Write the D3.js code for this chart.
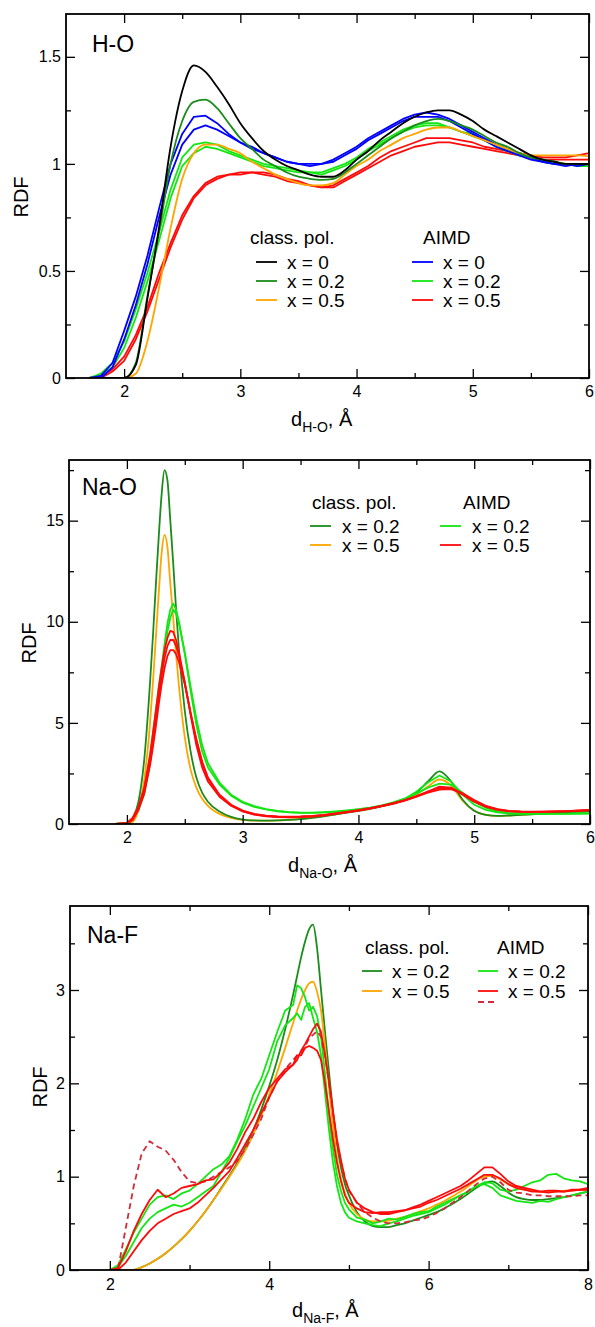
<!DOCTYPE html>
<html>
<head>
<meta charset="utf-8">
<title>RDF</title>
<script src="https://d3js.org/d3.v7.min.js"></script>
<style>
  body { margin: 0; background: #fff; }
  text { font-family: "Liberation Sans", Arial, sans-serif; fill: #000; }
</style>
</head>
<body>
<script>
// ---------- H-O panel data ----------
var hoX = [1.7,1.8,1.9,2.0,2.1,2.2,2.3,2.4,2.5,2.6,2.7,2.8,2.9,3.0,3.1,3.2,3.3,3.4,3.5,3.6,3.7,3.8,3.9,4.0,4.1,4.2,4.3,4.4,4.5,4.6,4.7,4.8,4.9,5.0,5.1,5.2,5.3,5.4,5.5,5.6,5.7,5.8,5.9,6.0];
var hoClass0  = [0,0,0,0,0.06,0.37,0.70,1.08,1.34,1.46,1.43,1.36,1.28,1.19,1.12,1.06,1.02,0.99,0.97,0.95,0.94,0.94,0.97,1.02,1.06,1.11,1.15,1.19,1.22,1.24,1.25,1.25,1.23,1.20,1.16,1.13,1.10,1.07,1.04,1.02,1.01,1.00,1.00,1.00];
var hoClass02 = [0,0,0,0,0.07,0.38,0.68,1.00,1.20,1.29,1.30,1.26,1.19,1.12,1.07,1.02,0.99,0.96,0.94,0.93,0.925,0.93,0.96,1.00,1.04,1.08,1.12,1.15,1.18,1.20,1.21,1.20,1.18,1.16,1.13,1.10,1.08,1.05,1.03,1.02,1.01,1.00,1.00,1.00];
var hoClass05 = [0,0,0,0,0.02,0.17,0.42,0.70,0.93,1.05,1.09,1.09,1.07,1.05,1.01,0.98,0.95,0.93,0.91,0.90,0.90,0.91,0.95,0.99,1.02,1.06,1.09,1.12,1.14,1.16,1.17,1.17,1.15,1.13,1.11,1.09,1.07,1.05,1.04,1.04,1.04,1.04,1.04,1.035];
var hoAimd0a  = [0,0.01,0.07,0.22,0.38,0.57,0.79,1.00,1.14,1.22,1.225,1.19,1.14,1.10,1.08,1.05,1.03,1.01,1.00,1.00,1.00,1.02,1.05,1.08,1.12,1.15,1.18,1.21,1.23,1.24,1.23,1.21,1.18,1.15,1.12,1.09,1.07,1.05,1.03,1.01,1.00,1.00,0.99,1.00];
var hoAimd0b  = [0,0,0.05,0.18,0.34,0.53,0.75,0.95,1.09,1.16,1.18,1.16,1.13,1.10,1.07,1.05,1.03,1.01,1.00,0.99,1.00,1.01,1.04,1.07,1.11,1.14,1.17,1.20,1.22,1.22,1.22,1.20,1.17,1.14,1.11,1.08,1.06,1.04,1.02,1.01,1.00,0.99,1.00,1.00];
var hoAimd02a = [0,0.02,0.07,0.17,0.32,0.49,0.68,0.88,1.03,1.09,1.10,1.09,1.06,1.04,1.02,1.00,0.99,0.98,0.97,0.96,0.96,0.98,1.00,1.03,1.07,1.10,1.13,1.16,1.18,1.19,1.19,1.17,1.15,1.14,1.11,1.09,1.07,1.05,1.03,1.02,1.01,1.00,1.00,1.00];
var hoAimd02b = [0,0.01,0.05,0.14,0.28,0.45,0.64,0.84,0.99,1.05,1.08,1.07,1.05,1.03,1.01,0.99,0.98,0.97,0.96,0.96,0.95,0.97,0.99,1.02,1.06,1.09,1.12,1.15,1.17,1.18,1.18,1.17,1.15,1.13,1.11,1.08,1.06,1.04,1.03,1.01,1.00,1.00,0.99,0.99];
var hoAimd05a = [0,0.01,0.04,0.10,0.20,0.33,0.49,0.63,0.76,0.85,0.91,0.94,0.95,0.96,0.96,0.96,0.95,0.93,0.92,0.90,0.89,0.90,0.93,0.96,0.99,1.03,1.06,1.08,1.10,1.12,1.12,1.12,1.11,1.10,1.08,1.07,1.06,1.05,1.04,1.03,1.03,1.03,1.04,1.05];
var hoAimd05b = [0,0,0.03,0.08,0.18,0.31,0.46,0.61,0.74,0.84,0.90,0.93,0.95,0.95,0.96,0.95,0.94,0.92,0.91,0.90,0.89,0.89,0.92,0.95,0.98,1.01,1.04,1.06,1.08,1.09,1.10,1.10,1.09,1.08,1.07,1.06,1.05,1.04,1.03,1.02,1.02,1.02,1.02,1.02];

// ---------- Na-O panel data ----------
var naoX = [1.9,2.0,2.05,2.1,2.15,2.2,2.225,2.25,2.275,2.3,2.325,2.35,2.375,2.4,2.425,2.45,2.5,2.55,2.6,2.65,2.7,2.8,2.9,3.0,3.1,3.2,3.3,3.4,3.5,3.6,3.7,3.8,3.9,4.0,4.1,4.2,4.3,4.4,4.5,4.6,4.7,4.8,4.9,5.0,5.1,5.2,5.3,5.4,5.5,5.6,5.7,5.8,5.9,6.0];
var naoClass02 = [0,0,0.3,1.1,3.2,7.0,9.3,11.8,14.2,16.3,17.5,17.0,15.0,12.9,10.6,8.6,5.6,3.6,2.3,1.55,1.1,0.62,0.35,0.22,0.18,0.17,0.18,0.20,0.24,0.30,0.38,0.47,0.56,0.65,0.75,0.87,1.02,1.22,1.55,2.10,2.60,2.10,1.20,0.65,0.45,0.40,0.42,0.45,0.48,0.52,0.55,0.58,0.60,0.62];
var naoClass05 = [0,0,0.1,0.7,2.2,5.0,7.0,9.2,11.4,13.4,14.3,13.7,11.9,10.2,8.4,6.8,4.3,2.7,1.8,1.25,0.9,0.5,0.3,0.2,0.17,0.17,0.18,0.21,0.25,0.31,0.39,0.48,0.57,0.66,0.76,0.88,1.02,1.20,1.45,1.85,2.20,1.90,1.15,0.65,0.45,0.40,0.42,0.45,0.49,0.52,0.55,0.58,0.60,0.62];
var naoAimd02a = [0,0.05,0.3,0.8,1.7,3.4,4.5,5.6,6.8,7.8,8.9,9.9,10.6,10.9,10.6,10.0,8.4,6.6,4.9,3.6,2.8,1.95,1.4,1.05,0.85,0.72,0.63,0.58,0.55,0.55,0.57,0.60,0.65,0.72,0.80,0.90,1.05,1.25,1.60,2.05,2.40,2.10,1.45,0.95,0.70,0.58,0.52,0.50,0.50,0.50,0.50,0.51,0.52,0.53];
var naoAimd02b = [0,0.04,0.25,0.7,1.5,3.0,4.1,5.2,6.4,7.5,8.6,9.5,10.2,10.6,10.4,9.9,8.5,6.8,5.2,3.9,3.0,2.05,1.45,1.1,0.88,0.74,0.65,0.59,0.56,0.56,0.58,0.62,0.67,0.73,0.81,0.92,1.07,1.25,1.50,1.80,2.00,1.95,1.55,1.10,0.80,0.62,0.55,0.52,0.51,0.50,0.50,0.50,0.51,0.52];
var naoAimd05a = [0,0.05,0.3,0.85,1.8,3.4,4.5,5.6,6.7,7.7,8.6,9.2,9.55,9.5,9.1,8.5,7.0,5.4,3.9,2.8,2.1,1.35,0.9,0.62,0.46,0.38,0.34,0.33,0.34,0.37,0.42,0.50,0.58,0.66,0.76,0.88,1.00,1.15,1.35,1.60,1.85,1.80,1.45,1.10,0.85,0.70,0.62,0.60,0.60,0.61,0.62,0.64,0.67,0.70];
var naoAimd05b = [0,0.04,0.25,0.75,1.6,3.1,4.1,5.2,6.3,7.3,8.2,8.8,9.1,9.1,8.8,8.3,7.0,5.5,4.1,3.0,2.25,1.4,0.92,0.64,0.48,0.40,0.36,0.35,0.36,0.39,0.44,0.51,0.59,0.67,0.77,0.89,1.02,1.17,1.35,1.55,1.70,1.72,1.50,1.15,0.88,0.72,0.64,0.61,0.60,0.60,0.61,0.63,0.65,0.68];
var naoAimd05c = [0,0.03,0.2,0.7,1.5,2.9,3.8,4.8,5.9,6.9,7.7,8.3,8.6,8.6,8.4,8.0,6.9,5.5,4.2,3.1,2.3,1.45,0.95,0.66,0.50,0.41,0.37,0.36,0.37,0.40,0.45,0.52,0.60,0.68,0.78,0.90,1.03,1.18,1.38,1.60,1.78,1.78,1.52,1.18,0.90,0.74,0.65,0.62,0.61,0.61,0.62,0.63,0.66,0.69];

// ---------- Na-F panel data ----------
var nafX = [2.0,2.1,2.2,2.3,2.4,2.5,2.6,2.7,2.8,2.9,3.0,3.1,3.2,3.3,3.4,3.5,3.6,3.7,3.8,3.9,4.0,4.1,4.2,4.3,4.35,4.4,4.45,4.5,4.55,4.6,4.65,4.7,4.75,4.8,4.85,4.9,4.95,5.0,5.1,5.2,5.3,5.4,5.5,5.6,5.7,5.8,5.9,6.0,6.1,6.2,6.3,6.4,6.5,6.6,6.7,6.8,6.9,7.0,7.1,7.2,7.3,7.4,7.5,7.6,7.7,7.8,7.9,8.0];
var nafClass02 = [0,0,0,0,0.03,0.07,0.12,0.18,0.25,0.33,0.42,0.52,0.63,0.75,0.88,1.01,1.15,1.31,1.50,1.72,1.97,2.25,2.58,2.95,3.15,3.35,3.52,3.65,3.70,3.45,3.00,2.55,2.12,1.70,1.35,1.10,0.92,0.80,0.62,0.52,0.47,0.46,0.46,0.48,0.50,0.53,0.56,0.59,0.62,0.66,0.71,0.76,0.82,0.88,0.93,0.95,0.90,0.83,0.78,0.76,0.75,0.75,0.76,0.77,0.78,0.80,0.82,0.84];
var nafClass05 = [0,0,0,0,0.03,0.07,0.12,0.18,0.25,0.33,0.42,0.52,0.63,0.75,0.87,1.00,1.13,1.28,1.45,1.65,1.88,2.12,2.38,2.65,2.78,2.90,3.00,3.07,3.09,2.98,2.78,2.40,1.95,1.55,1.20,0.98,0.82,0.72,0.60,0.54,0.52,0.52,0.53,0.55,0.57,0.60,0.63,0.66,0.70,0.74,0.79,0.84,0.90,0.96,1.00,1.01,0.97,0.92,0.88,0.86,0.85,0.84,0.84,0.84,0.85,0.85,0.86,0.86];
var nafAimd02a = [0,0.05,0.22,0.40,0.55,0.70,0.78,0.80,0.76,0.82,0.85,0.92,1.00,1.08,1.13,1.22,1.40,1.62,1.88,2.05,2.30,2.55,2.78,2.84,3.05,3.02,2.92,2.78,2.82,2.72,2.50,2.10,1.65,1.30,1.02,0.85,0.72,0.65,0.56,0.54,0.50,0.52,0.55,0.54,0.57,0.60,0.62,0.63,0.68,0.72,0.76,0.80,0.84,0.90,0.94,0.93,0.86,0.84,0.86,0.90,0.94,0.96,1.02,1.03,0.98,0.96,0.95,0.92];
var nafAimd02b = [0,0.03,0.15,0.30,0.45,0.55,0.62,0.66,0.70,0.68,0.72,0.78,0.84,0.90,1.05,1.20,1.38,1.55,1.75,1.95,2.15,2.45,2.62,2.70,2.75,2.68,2.82,2.86,2.70,2.55,2.30,1.90,1.50,1.15,0.90,0.72,0.62,0.56,0.52,0.50,0.48,0.47,0.50,0.52,0.55,0.58,0.60,0.62,0.66,0.70,0.75,0.80,0.84,0.90,0.92,0.88,0.80,0.77,0.74,0.73,0.72,0.74,0.73,0.76,0.78,0.80,0.82,0.84];
var nafAimd05a = [0,0.02,0.20,0.42,0.60,0.75,0.86,0.78,0.82,0.88,0.90,0.92,0.96,0.97,1.05,1.15,1.30,1.48,1.62,1.80,1.95,2.05,2.15,2.20,2.30,2.30,2.38,2.40,2.38,2.35,2.25,2.00,1.70,1.40,1.15,0.95,0.80,0.72,0.66,0.62,0.61,0.62,0.62,0.63,0.64,0.67,0.70,0.74,0.78,0.82,0.86,0.90,0.96,1.03,1.10,1.10,1.03,0.95,0.90,0.88,0.86,0.84,0.85,0.85,0.84,0.86,0.86,0.88];
var nafAimd05b = [0,0,0.08,0.20,0.32,0.42,0.50,0.55,0.60,0.63,0.66,0.72,0.80,0.88,0.97,1.06,1.20,1.35,1.50,1.68,1.85,2.02,2.12,2.20,2.25,2.35,2.42,2.50,2.58,2.64,2.55,2.30,2.02,1.70,1.40,1.18,0.98,0.86,0.72,0.66,0.62,0.60,0.60,0.62,0.64,0.66,0.68,0.72,0.75,0.79,0.83,0.87,0.92,0.97,1.02,1.02,0.98,0.92,0.88,0.86,0.84,0.84,0.83,0.84,0.84,0.85,0.86,0.86];
var nafAimd05dash = [0,0,0.45,0.90,1.25,1.38,1.32,1.28,1.18,1.05,0.95,0.93,0.95,1.00,1.05,1.10,1.17,1.30,1.45,1.62,1.85,2.02,2.15,2.25,2.30,2.33,2.40,2.48,2.52,2.56,2.50,2.30,2.00,1.68,1.38,1.15,0.98,0.85,0.72,0.62,0.56,0.52,0.50,0.50,0.51,0.53,0.54,0.57,0.61,0.66,0.72,0.78,0.85,0.92,0.98,1.00,0.94,0.86,0.83,0.82,0.80,0.80,0.79,0.79,0.79,0.79,0.80,0.80];

// tick values
var hoXTicks = [2,3,4,5,6], hoXMinor = [2.5,3.5,4.5,5.5];
var hoYTicks = [0,0.5,1,1.5], hoYMinor = [0.25,0.75,1.25];
var naoXTicks = [2,3,4,5,6], naoXMinor = [2.5,3.5,4.5,5.5];
var naoYTicks = [0,5,10,15], naoYMinor = [2.5,7.5,12.5,17.5];
var nafXTicks = [2,4,6,8], nafXMinor = [3,5,7];
var nafYTicks = [0,1,2,3], nafYMinor = [0.5,1.5,2.5,3.5];

var cBlack = "#000000", cDkGreen = "#1a8c1a", cOrange = "#ffa500",
    cBlue = "#0000ff", cGreen = "#14e614", cRed = "#ff0a0a", cDash = "#d42a3a";

var W = 595, H = 1327;
var svg = d3.select("body").append("svg").attr("width", W).attr("height", H);

function drawPanel(p, idx) {
  var x = d3.scaleLinear().domain(p.xDom).range([p.left, p.right]);
  var y = d3.scaleLinear().domain(p.yDom).range([p.bottom, p.top]);
  var g = svg.append("g");

  var clipId = "clip" + idx;
  svg.append("clipPath").attr("id", clipId).append("rect")
    .attr("x", p.left).attr("y", p.top)
    .attr("width", p.right - p.left).attr("height", p.bottom - p.top);

  var curves = g.append("g").attr("clip-path", "url(#" + clipId + ")");
  p.series.forEach(function(s) {
    var line = d3.line()
      .x(function(d, i) { return x(p.xs[i]); })
      .y(function(d) { return y(d); })
      .curve(s.noisy ? d3.curveLinear : d3.curveMonotoneX);
    curves.append("path").datum(s.y)
      .attr("d", line)
      .attr("fill", "none")
      .attr("stroke", s.color)
      .attr("stroke-width", 1.8)
      .attr("stroke-linejoin", "round")
      .attr("stroke-dasharray", s.dash ? "6,4" : null);
  });

  // axes, ticks pointing inward on all sides
  function ax(gen, scale, vals, size, labels, tr, pad) {
    var a = gen(scale).tickValues(vals).tickSize(-size).tickPadding(pad || 0);
    if (!labels) a.tickFormat("");
    else a.tickFormat(d3.format("~g"));
    var sel = g.append("g").attr("transform", tr).call(a);
    sel.select(".domain").remove();
    sel.selectAll("line").attr("stroke", "#000").attr("stroke-width", 1.3);
    sel.selectAll("text").style("font-size", "16px")
      .style("font-family", "'Liberation Sans', Arial, sans-serif").attr("fill", "#000");
    return sel;
  }
  ax(d3.axisBottom, x, p.xTicks, 9, true, "translate(0," + p.bottom + ")", p.xPad);
  ax(d3.axisBottom, x, p.xMinor, 5, false, "translate(0," + p.bottom + ")");
  ax(d3.axisTop, x, p.xTicks, 9, false, "translate(0," + p.top + ")");
  ax(d3.axisTop, x, p.xMinor, 5, false, "translate(0," + p.top + ")");
  ax(d3.axisLeft, y, p.yTicks, 9, true, "translate(" + p.left + ",0)", 5);
  ax(d3.axisLeft, y, p.yMinor, 5, false, "translate(" + p.left + ",0)");
  ax(d3.axisRight, y, p.yTicks, 9, false, "translate(" + p.right + ",0)");
  ax(d3.axisRight, y, p.yMinor, 5, false, "translate(" + p.right + ",0)");

  g.append("rect")
    .attr("x", p.left).attr("y", p.top)
    .attr("width", p.right - p.left).attr("height", p.bottom - p.top)
    .attr("fill", "none").attr("stroke", "#000").attr("stroke-width", 1.8);

  // panel name
  g.append("text").attr("x", p.nameX).attr("y", p.nameY)
    .style("font-size", "23px").text(p.name);

  // y label
  g.append("text")
    .attr("transform", "translate(" + p.yLabX + "," + p.yLabY + ") rotate(-90)")
    .attr("text-anchor", "middle").attr("dy", "0.35em")
    .style("font-size", "20px").text("RDF");

  // x label with subscript
  var xl = g.append("text").attr("x", p.xLabX).attr("y", p.xLabY).style("font-size", "20px");
  xl.append("tspan").text("d");
  xl.append("tspan").attr("dy", 6).style("font-size", "14px").text(p.sub);
  xl.append("tspan").attr("dy", -6).text(", Å");

  // legend
  var lg = p.legend;
  lg.titles.forEach(function(t) {
    g.append("text").attr("x", t.x).attr("y", t.y).attr("dy", "0.35em")
      .style("font-size", "19px").text(t.text);
  });
  lg.items.forEach(function(it) {
    g.append("line").attr("x1", it.x1).attr("x2", it.x1 + lg.len)
      .attr("y1", it.y).attr("y2", it.y)
      .attr("stroke", it.color).attr("stroke-width", 1.8)
      .attr("stroke-dasharray", it.dash ? "6,4" : null);
    if (it.text) {
      g.append("text").attr("x", it.tx).attr("y", it.y).attr("dy", "0.35em")
        .style("font-size", "19px").text(it.text);
    }
  });
}

var panels = [
  {
    xs: hoX, xDom: [1.5, 6], yDom: [0, 1.7],
    left: 66, right: 589, top: 14, bottom: 378,
    xTicks: hoXTicks, xMinor: hoXMinor, yTicks: hoYTicks, yMinor: hoYMinor, xPad: 8,
    name: "H-O", nameX: 92, nameY: 52,
    yLabX: 21, yLabY: 197, xLabX: 291, xLabY: 426, sub: "H-O",
    series: [
      {y: hoAimd05a, color: cRed, noisy: true},
      {y: hoAimd05b, color: cRed, noisy: true},
      {y: hoAimd02a, color: cGreen, noisy: true},
      {y: hoAimd02b, color: cGreen, noisy: true},
      {y: hoAimd0a, color: cBlue, noisy: true},
      {y: hoAimd0b, color: cBlue, noisy: true},
      {y: hoClass05, color: cOrange},
      {y: hoClass02, color: cDkGreen},
      {y: hoClass0, color: cBlack}
    ],
    legend: {
      len: 21,
      titles: [{text: "class. pol.", x: 250, y: 237}, {text: "AIMD", x: 423, y: 237}],
      items: [
        {x1: 256, y: 262, color: cBlack, tx: 287, text: "x = 0"},
        {x1: 256, y: 281, color: cDkGreen, tx: 287, text: "x = 0.2"},
        {x1: 256, y: 300, color: cOrange, tx: 287, text: "x = 0.5"},
        {x1: 412, y: 262, color: cBlue, tx: 443, text: "x = 0"},
        {x1: 412, y: 281, color: cGreen, tx: 443, text: "x = 0.2"},
        {x1: 412, y: 300, color: cRed, tx: 443, text: "x = 0.5"}
      ]
    }
  },
  {
    xs: naoX, xDom: [1.5, 6], yDom: [0, 18],
    left: 69, right: 590, top: 460, bottom: 824,
    xTicks: naoXTicks, xMinor: naoXMinor, yTicks: naoYTicks, yMinor: naoYMinor, xPad: 8,
    name: "Na-O", nameX: 82, nameY: 495,
    yLabX: 29, yLabY: 643, xLabX: 288, xLabY: 872, sub: "Na-O",
    series: [
      {y: naoClass05, color: cOrange},
      {y: naoClass02, color: cDkGreen},
      {y: naoAimd02a, color: cGreen, noisy: true},
      {y: naoAimd02b, color: cGreen, noisy: true},
      {y: naoAimd05a, color: cRed, noisy: true},
      {y: naoAimd05b, color: cRed, noisy: true},
      {y: naoAimd05c, color: cRed, noisy: true}
    ],
    legend: {
      len: 21,
      titles: [{text: "class. pol.", x: 312, y: 502}, {text: "AIMD", x: 463, y: 502}],
      items: [
        {x1: 310, y: 526, color: cDkGreen, tx: 342, text: "x = 0.2"},
        {x1: 310, y: 545, color: cOrange, tx: 342, text: "x = 0.5"},
        {x1: 440, y: 526, color: cGreen, tx: 472, text: "x = 0.2"},
        {x1: 440, y: 545, color: cRed, tx: 472, text: "x = 0.5"}
      ]
    }
  },
  {
    xs: nafX, xDom: [1.5, 8], yDom: [0, 3.9],
    left: 70, right: 588, top: 906, bottom: 1270,
    xTicks: nafXTicks, xMinor: nafXMinor, yTicks: nafYTicks, yMinor: nafYMinor, xPad: 9,
    name: "Na-F", nameX: 87, nameY: 943,
    yLabX: 40, yLabY: 1087, xLabX: 292, xLabY: 1317, sub: "Na-F",
    series: [
      {y: nafClass02, color: cDkGreen},
      {y: nafClass05, color: cOrange},
      {y: nafAimd02a, color: cGreen, noisy: true},
      {y: nafAimd02b, color: cGreen, noisy: true},
      {y: nafAimd05dash, color: cDash, noisy: true, dash: true},
      {y: nafAimd05a, color: cRed, noisy: true},
      {y: nafAimd05b, color: cRed, noisy: true}
    ],
    legend: {
      len: 20,
      titles: [{text: "class. pol.", x: 365, y: 947}, {text: "AIMD", x: 497, y: 947}],
      items: [
        {x1: 362, y: 971, color: cDkGreen, tx: 392, text: "x = 0.2"},
        {x1: 362, y: 991, color: cOrange, tx: 392, text: "x = 0.5"},
        {x1: 478, y: 971, color: cGreen, tx: 508, text: "x = 0.2"},
        {x1: 478, y: 991, color: cRed, tx: 508, text: "x = 0.5"},
        {x1: 478, y: 1002, color: cDash, dash: true}
      ]
    }
  }
];

panels.forEach(drawPanel);
</script>
</body>
</html>
